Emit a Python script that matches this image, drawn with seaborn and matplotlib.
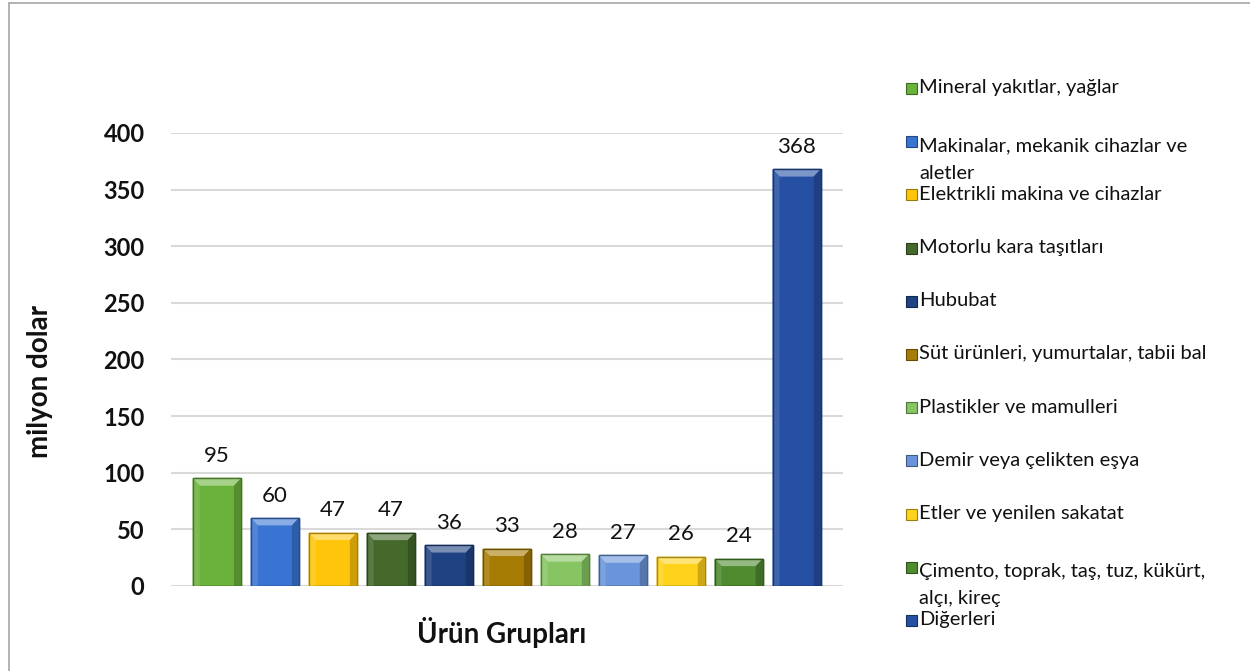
import numpy as np
import pandas as pd
import seaborn as sns
import matplotlib.pyplot as plt
from matplotlib.patches import Polygon, Rectangle
from matplotlib.lines import Line2D
import matplotlib.colors as mcolors

sns.set_theme(style="white")
plt.rcParams['font.family'] = ['Lato', 'DejaVu Sans']

# data (milyon dolar)
categories = ["Mineral yakıtlar, yağlar",
              "Makinalar, mekanik cihazlar ve\naletler",
              "Elektrikli makina ve cihazlar",
              "Motorlu kara taşıtları",
              "Hububat",
              "Süt ürünleri, yumurtalar, tabii bal",
              "Plastikler ve mamulleri",
              "Demir veya çelikten eşya",
              "Etler ve yenilen sakatat",
              "Çimento, toprak, taş, tuz, kükürt,\nalçı, kireç",
              "Diğerleri"]
values = [95, 60, 47, 47, 36, 33, 28, 27, 26, 24, 368]
colors = ["#6AB23A", "#3A74D2", "#FFC50A", "#44692B", "#1F4283",
          "#A67C05", "#86C562", "#6A95DA", "#FFD21C", "#4E8A2E", "#2550A3"]
yticks = [0, 50, 100, 150, 200, 250, 300, 350, 400]

df = pd.DataFrame({"grup": categories, "deger": values})

fig = plt.figure(figsize=(12.5, 6.71), dpi=100)
ax = fig.add_axes([0.1368, 0.1267, 0.5376, 0.6751])

sns.barplot(data=df, x="grup", y="deger", hue="grup", palette=colors,
            legend=False, width=0.83, saturation=1, ax=ax, zorder=3)


def shade(c, f):
    r, g, b = mcolors.to_rgb(c)
    if f > 0:
        return (r + (1 - r) * f, g + (1 - g) * f, b + (1 - b) * f)
    return (r * (1 + f), g * (1 + f), b * (1 + f))


# bevel look on every bar, derived from the drawn patches
for p, c in zip(list(ax.patches), colors):
    x0, w, h = p.get_x(), p.get_width(), p.get_height()
    x1 = x0 + w
    p.set_edgecolor(shade(c, -0.35))
    p.set_linewidth(1.0)
    dx, dy = 0.12, 6.5
    ax.add_patch(Polygon([(x0, h), (x1, h), (x1 - dx, h - dy), (x0 + dx, h - dy)],
                         closed=True, facecolor=shade(c, 0.4), edgecolor="none", zorder=4))
    ax.add_patch(Polygon([(x0, 0), (x0, h), (x0 + dx, h - dy), (x0 + dx, 0)],
                         closed=True, facecolor=shade(c, 0.12), edgecolor="none", zorder=4))
    ax.add_patch(Polygon([(x1, 0), (x1, h), (x1 - dx, h - dy), (x1 - dx, 0)],
                         closed=True, facecolor=shade(c, -0.2), edgecolor="none", zorder=4))
    ax.add_patch(Rectangle((x0, 0), w, h, facecolor="none",
                           edgecolor=shade(c, -0.35), linewidth=1.0, zorder=5))

for cont in ax.containers:
    ax.bar_label(cont, fmt="%d", padding=9, fontsize=16, color="#111111")

ax.set_xlim(-0.79, 10.8)
ax.set_ylim(0, 400)
ax.set_yticks(yticks)
ax.set_xticks([])
ax.set_xlabel("")
ax.set_ylabel("")
ax.yaxis.grid(True, color="#D9D9D9", linewidth=1.5, zorder=0)
ax.set_axisbelow(True)
for s in ax.spines.values():
    s.set_visible(False)
ax.tick_params(axis="y", length=0, pad=19, labelsize=17, labelcolor="#111111")
for t in ax.get_yticklabels():
    t.set_fontweight("bold")

fig.text(0.032, 0.432, "milyon dolar", rotation=90, ha="center", va="center",
         fontsize=20, fontweight="bold", color="#111111")
fig.text(0.401, 0.058, "Ürün Grupları", ha="center", va="center",
         fontsize=20, fontweight="bold", color="#111111")

# legend on the right
y_top = 1 - 88 / 671
step = 53.2 / 671
for i, (lab, c) in enumerate(zip(categories, colors)):
    yy = y_top - i * step
    fig.add_artist(Rectangle((0.7245, yy - 0.009), 0.0088, 0.0164,
                             transform=fig.transFigure, facecolor=c,
                             edgecolor=shade(c, -0.4), linewidth=0.8))
    if "\n" in lab:
        fig.text(0.7355, yy + 0.005, lab, ha="left", va="top",
                 fontsize=14.5, linespacing=1.7, color="#111111")
    else:
        fig.text(0.7355, yy, lab, ha="left", va="center", fontsize=14.5,
                 color="#111111")

# outer frame (left and top)
fig.add_artist(Line2D([0.0072, 0.0072], [0, 0.996], transform=fig.transFigure,
                      color="#A6A6A6", linewidth=1.2))
fig.add_artist(Line2D([0.0072, 1.0], [0.996, 0.996], transform=fig.transFigure,
                      color="#A6A6A6", linewidth=1.2))

fig.savefig("out.png", dpi=100)
